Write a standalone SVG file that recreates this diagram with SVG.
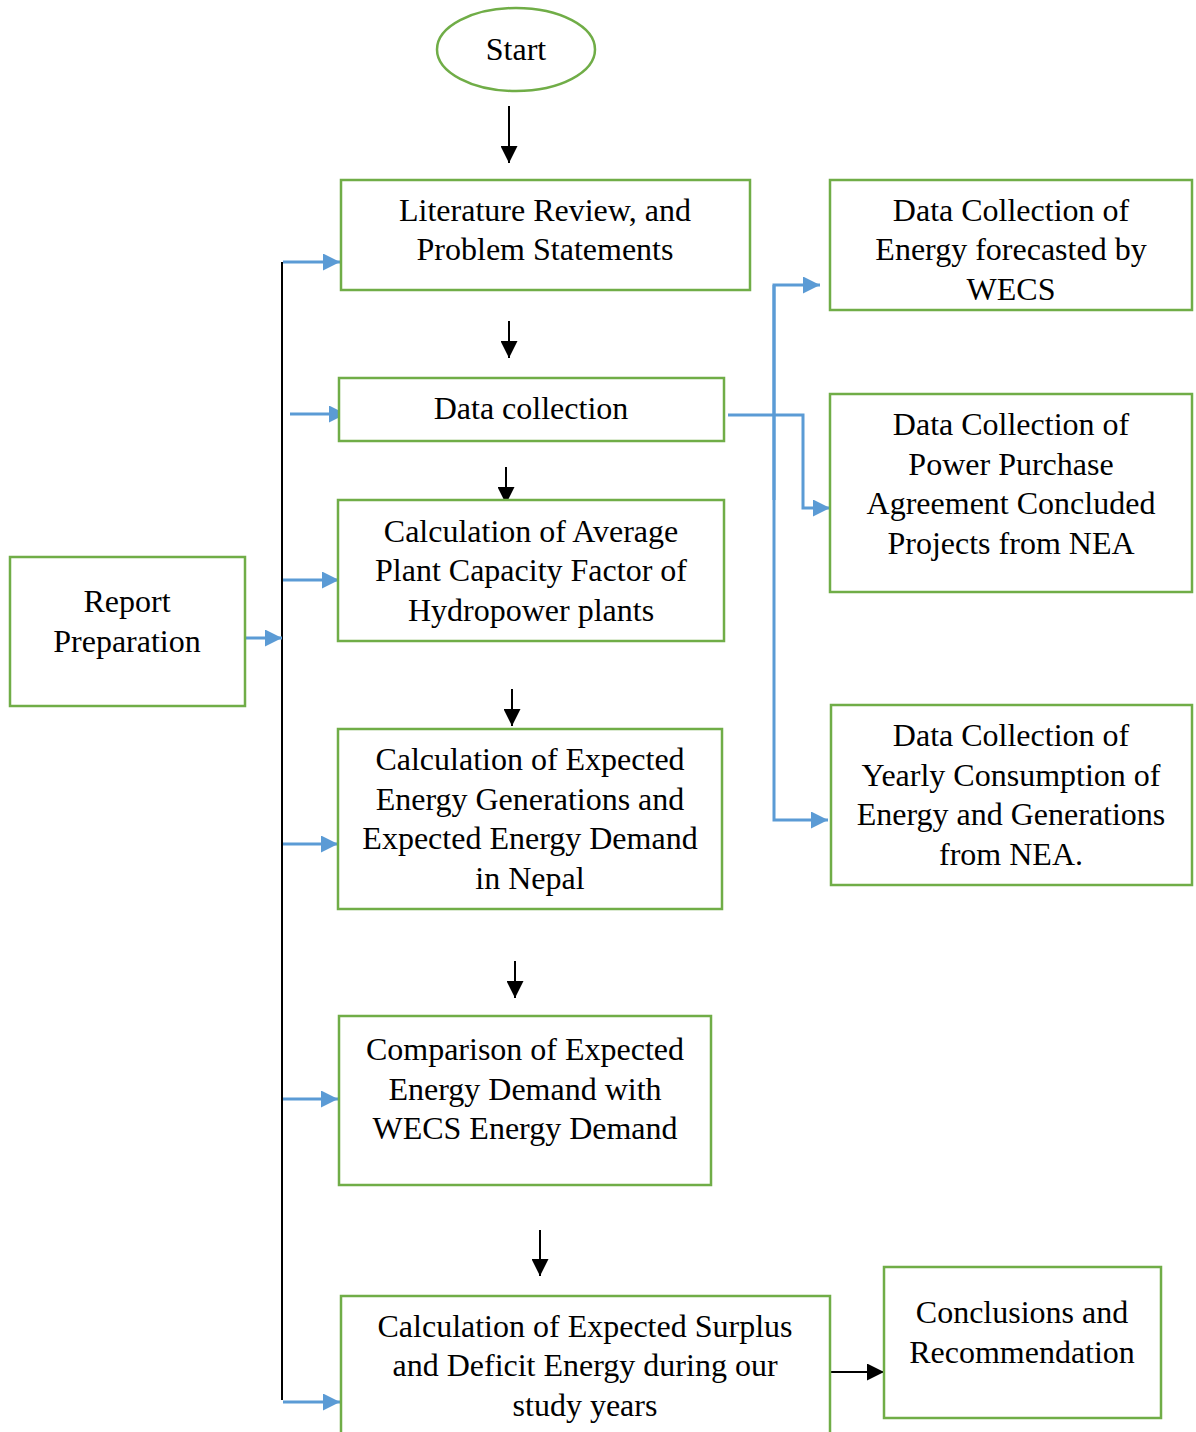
<svg xmlns="http://www.w3.org/2000/svg" width="1196" height="1432" viewBox="0 0 1196 1432">
<style>
.box{fill:#fff;stroke:#70AD47;stroke-width:2.5}
.t{font-family:"Liberation Serif","Times New Roman",serif;font-size:32px;fill:#000;text-anchor:middle}
.bl{stroke:#000;stroke-width:2;fill:none}
.bu{stroke:#5B9BD5;stroke-width:3;fill:none}
</style>
<defs>
<marker id="ab" viewBox="0 0 10 10" refX="10" refY="5" markerUnits="userSpaceOnUse" markerWidth="17" markerHeight="17" orient="auto"><path d="M0,0 L10,5 L0,10 z" fill="#000"/></marker>
<marker id="au" viewBox="0 0 10 10" refX="10" refY="5" markerUnits="userSpaceOnUse" markerWidth="17" markerHeight="17" orient="auto"><path d="M0,0 L10,5 L0,10 z" fill="#5B9BD5"/></marker>
</defs>
<rect width="1196" height="1432" fill="#fff"/>
<g id="connectors">
<line class="bl" x1="509" y1="106" x2="509" y2="163" marker-end="url(#ab)"/>
<line class="bl" x1="509" y1="321" x2="509" y2="358" marker-end="url(#ab)"/>
<line class="bl" x1="506" y1="467" x2="506" y2="504" marker-end="url(#ab)"/>
<line class="bl" x1="512" y1="689" x2="512" y2="726" marker-end="url(#ab)"/>
<line class="bl" x1="515" y1="961" x2="515" y2="998" marker-end="url(#ab)"/>
<line class="bl" x1="540" y1="1230" x2="540" y2="1276" marker-end="url(#ab)"/>
<line class="bl" x1="831" y1="1372" x2="884" y2="1372" marker-end="url(#ab)"/>
<line class="bl" x1="282" y1="262" x2="282" y2="1400"/>
<line class="bu" x1="283" y1="262" x2="340" y2="262" marker-end="url(#au)"/>
<line class="bu" x1="290" y1="414" x2="346" y2="414" marker-end="url(#au)"/>
<line class="bu" x1="283" y1="580" x2="339" y2="580" marker-end="url(#au)"/>
<line class="bu" x1="245" y1="638" x2="282" y2="638" marker-end="url(#au)"/>
<line class="bu" x1="283" y1="844" x2="338" y2="844" marker-end="url(#au)"/>
<line class="bu" x1="283" y1="1099" x2="338" y2="1099" marker-end="url(#au)"/>
<line class="bu" x1="283" y1="1402" x2="340" y2="1402" marker-end="url(#au)"/>
<polyline class="bu" points="728,415 803,415 803,508 830,508" marker-end="url(#au)"/>
<polyline class="bu" points="774,500 774,285 820,285" marker-end="url(#au)"/>
<polyline class="bu" points="774,285 774,820 828,820" marker-end="url(#au)"/>
</g>
<g id="start">
<ellipse cx="516" cy="49.5" rx="79" ry="41.5" fill="#fff" stroke="#70AD47" stroke-width="2.5"/>
<text class="t" x="516" y="60">Start</text>
</g>
<g id="literature">
<rect class="box" x="341" y="180" width="409" height="110"/>
<text class="t" x="545" y="221">Literature Review, and</text>
<text class="t" x="545" y="260">Problem Statements</text>
</g>
<g id="data-collection">
<rect class="box" x="339" y="378" width="385" height="63"/>
<text class="t" x="531" y="419">Data collection</text>
</g>
<g id="calc-average">
<rect class="box" x="338" y="500" width="386" height="141"/>
<text class="t" x="531" y="542">Calculation of Average</text>
<text class="t" x="531" y="581">Plant Capacity Factor of</text>
<text class="t" x="531" y="621">Hydropower plants</text>
</g>
<g id="calc-expected">
<rect class="box" x="338" y="729" width="384" height="180"/>
<text class="t" x="530" y="770">Calculation of Expected</text>
<text class="t" x="530" y="810">Energy Generations and</text>
<text class="t" x="530" y="849">Expected Energy Demand</text>
<text class="t" x="530" y="889">in Nepal</text>
</g>
<g id="comparison">
<rect class="box" x="339" y="1016" width="372" height="169"/>
<text class="t" x="525" y="1060">Comparison of Expected</text>
<text class="t" x="525" y="1100">Energy Demand with</text>
<text class="t" x="525" y="1139">WECS Energy Demand</text>
</g>
<g id="surplus">
<rect class="box" x="341" y="1296" width="489" height="150"/>
<text class="t" x="585" y="1337">Calculation of Expected Surplus</text>
<text class="t" x="585" y="1376">and Deficit Energy during our</text>
<text class="t" x="585" y="1416">study years</text>
</g>
<g id="report">
<rect class="box" x="10" y="557" width="235" height="149"/>
<text class="t" x="127" y="612">Report</text>
<text class="t" x="127" y="652">Preparation</text>
</g>
<g id="wecs">
<rect class="box" x="830" y="180" width="362" height="130"/>
<text class="t" x="1011" y="221">Data Collection of</text>
<text class="t" x="1011" y="260">Energy forecasted by</text>
<text class="t" x="1011" y="300">WECS</text>
</g>
<g id="ppa">
<rect class="box" x="830" y="394" width="362" height="198"/>
<text class="t" x="1011" y="435">Data Collection of</text>
<text class="t" x="1011" y="475">Power Purchase</text>
<text class="t" x="1011" y="514">Agreement Concluded</text>
<text class="t" x="1011" y="554">Projects from NEA</text>
</g>
<g id="yearly">
<rect class="box" x="831" y="705" width="361" height="180"/>
<text class="t" x="1011" y="746">Data Collection of</text>
<text class="t" x="1011" y="786">Yearly Consumption of</text>
<text class="t" x="1011" y="825">Energy and Generations</text>
<text class="t" x="1011" y="865">from NEA.</text>
</g>
<g id="conclusions">
<rect class="box" x="884" y="1267" width="277" height="151"/>
<text class="t" x="1022" y="1323">Conclusions and</text>
<text class="t" x="1022" y="1363">Recommendation</text>
</g>
</svg>
